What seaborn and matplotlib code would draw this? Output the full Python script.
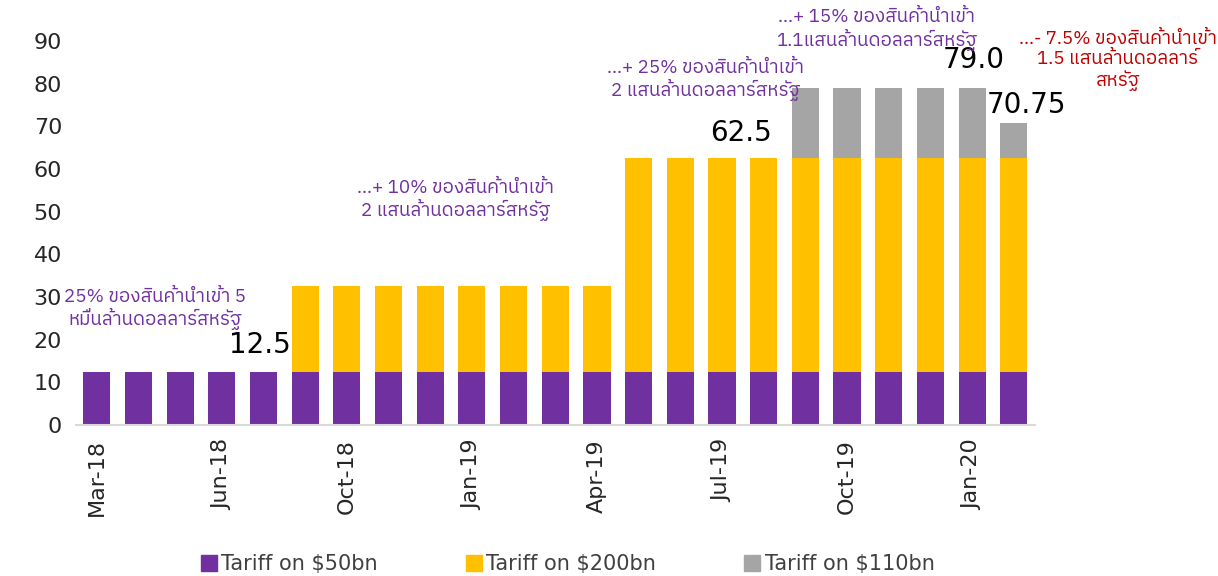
import matplotlib
matplotlib.use("Agg")
import matplotlib.pyplot as plt
from matplotlib import font_manager
import seaborn as sns
import pandas as pd
import numpy as np

months = ["Mar-18", "Apr-18", "May-18", "Jun-18", "Jul-18", "Sep-18", "Oct-18", "Nov-18",
          "Dec-18", "Jan-19", "Feb-19", "Mar-19", "Apr-19", "May-19", "Jun-19", "Jul-19",
          "Aug-19", "Sep-19", "Oct-19", "Nov-19", "Dec-19", "Jan-20", "Feb-20"]
tariff_50 = [12.5] * 23
tariff_200 = [0] * 5 + [20] * 8 + [50] * 10
tariff_110 = [0] * 17 + [16.5] * 5 + [8.25]
shown_ticks = ["Mar-18", "Jun-18", "Oct-18", "Jan-19", "Apr-19", "Jul-19", "Oct-19", "Jan-20"]
series_names = ["Tariff on $50bn", "Tariff on $200bn", "Tariff on $110bn"]
colors = ["#7030A0", "#FFC000", "#A5A5A5"]

thai_fams = sorted({f.name for f in font_manager.fontManager.ttflist if "thai" in f.name.lower()})
text_fams = thai_fams + ["Noto Sans", "DejaVu Sans"]

df = pd.DataFrame({"month": months, "a": tariff_50, "b": tariff_200, "c": tariff_110})
df["cum_a"] = df["a"]
df["cum_b"] = df["a"] + df["b"]
df["cum_c"] = df["cum_b"] + df["c"]

sns.set_style("white")
plt.rcParams["font.family"] = ["DejaVu Sans"]

fig = plt.figure(figsize=(12.18, 5.76), dpi=100)
ax = fig.add_axes([0.0624, 0.262, 0.787, 0.667])

for col, color in zip(["cum_c", "cum_b", "cum_a"], [colors[2], colors[1], colors[0]]):
    sns.barplot(data=df, x="month", y=col, color=color, width=0.65, ax=ax,
                saturation=1, order=months, linewidth=0, edgecolor="none")

ax.set_xlim(-0.5, len(months) - 0.5)
ax.set_ylim(0, 90)
ax.set_yticks(range(0, 91, 10))
ax.set_xlabel("")
ax.set_ylabel("")
pos = [months.index(m) for m in shown_ticks]
ax.set_xticks(pos)
ax.set_xticklabels(shown_ticks, rotation=90, fontsize=16, color="#262626")
ax.tick_params(axis="y", labelsize=16, colors="#262626", length=0, pad=10)
ax.tick_params(axis="x", length=0, pad=10)
for s in ["top", "right", "left"]:
    ax.spines[s].set_visible(False)
ax.spines["bottom"].set_color("#D9D9D9")
ax.spines["bottom"].set_linewidth(1.5)

# value labels
vl = dict(fontsize=20, color="black", clip_on=False)
ax.text(4.65, 18.7, "12.5", ha="right", va="center", **vl)
ax.text(16.2, 68.4, "62.5", ha="right", va="center", **vl)
ax.text(21.05, 85.5, "79.0", ha="center", va="center", **vl)
ax.text(22.3, 75.0, "70.75", ha="center", va="center", **vl)

purple = "#7030A0"
red = "#C00000"
an = dict(fontsize=13.5, ha="center", va="center", family=text_fams, clip_on=False, linespacing=1.15)
ax.text(1.4, 27.2, "25% ของสินค้านำเข้า 5\nหมื่นล้านดอลลาร์สหรัฐ", color=purple, **an)
ax.text(8.6, 52.7, "...+ 10% ของสินค้านำเข้า\n2 แสนล้านดอลลาร์สหรัฐ", color=purple, **an)
ax.text(14.6, 80.8, "...+ 25% ของสินค้านำเข้า\n2 แสนล้านดอลลาร์สหรัฐ", color=purple, **an)
ax.text(18.7, 92.6, "...+ 15% ของสินค้านำเข้า\n1.1แสนล้านดอลลาร์สหรัฐ", color=purple, **an)
ax.text(24.5, 85.5, "...- 7.5% ของสินค้านำเข้า\n1.5 แสนล้านดอลลาร์\nสหรัฐ", color=red, **an)

handles = [plt.Rectangle((0, 0), 1, 1, color=c) for c in colors]
fig.legend(handles, series_names, loc="center", bbox_to_anchor=(0.466, 0.02), ncol=3,
           frameon=False, fontsize=15, handlelength=0.8, handleheight=0.8,
           handletextpad=0.2, columnspacing=4.2, labelcolor="#404040")

fig.savefig("out.png", dpi=100)
